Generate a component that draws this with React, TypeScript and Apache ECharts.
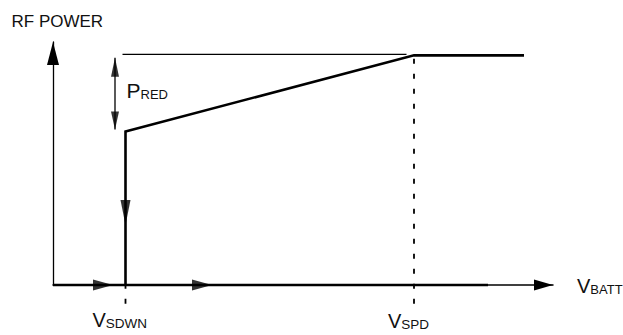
import React, { useEffect, useRef } from "react";
import * as echarts from "echarts";

// Schematic values (x: battery voltage scale 0..100, y: RF power scale 0..100)
const vSdwn = 14.5;
const vSpd = 72.2;
const curveEndX = 94.2;
const stepTopPower = 63.2;
const maxPower = 94.5;
const refLineStartX = 13.9;
const refLineEndX = 70.7;
const refLinePower = 94.9;
const thickAxisEndX = 87;
const dashBottom = -7.7;
const pRedX = 12.4;
const pRedTop = 93.5;
const pRedBottom = 64.0;
const flowArrowTips = [12, 31.8];
const downArrowTipY = 24.7;

const powerCurve = [
  [vSdwn, 0],
  [vSdwn, stepTopPower],
  [vSpd, maxPower],
  [curveEndX, maxPower],
];
const thickAxis = [
  [0, 0],
  [thickAxisEndX, 0],
];
const refLine = [
  [refLineStartX, refLinePower],
  [refLineEndX, refLinePower],
];
const pRedStem = [
  [pRedX, pRedBottom],
  [pRedX, pRedTop],
];
const spdDash = [
  [vSpd, dashBottom],
  [vSpd, maxPower],
];
const sdwnDash = [
  [vSdwn, dashBottom],
  [vSdwn, 0],
];

const FONT = "'Liberation Sans', Arial, sans-serif";
const INK = "#111";

function lineSeries(name: string, data: number[][], width: number, type: any) {
  return {
    name,
    type: "line",
    data,
    symbol: "none",
    showSymbol: false,
    clip: false,
    silent: true,
    lineStyle: { color: "#000", width, type, join: "miter", cap: "butt" },
    z: 3,
  };
}

function subLabel(x: number, y: number, main: string, sub: string, mainSize: number, subSize: number) {
  return {
    type: "text",
    x,
    y,
    style: {
      text: "{a|" + main + "}{b|" + sub + "}",
      fontFamily: FONT,
      fill: INK,
      verticalAlign: "top",
      rich: {
        a: { fontSize: mainSize, lineHeight: mainSize, verticalAlign: "bottom", fill: INK, fontFamily: FONT },
        b: { fontSize: subSize, lineHeight: 12, verticalAlign: "bottom", fill: INK, fontFamily: FONT },
      },
    },
  };
}

export default function App() {
  const ref = useRef<HTMLDivElement>(null);
  useEffect(() => {
    if (!ref.current) return;
    const chart = echarts.init(ref.current, undefined, { renderer: "svg" });

    const arrows: any[] = flowArrowTips.map((x) => ({
      value: [x, 0],
      symbolSize: [11, 20],
      symbolRotate: -90,
      symbolOffset: [-10, 0],
    }));
    arrows.push({ value: [vSdwn, downArrowTipY], symbolSize: [10, 25], symbolRotate: 180, symbolOffset: [0, -12.5] });
    arrows.push({ value: [pRedX, pRedTop], symbolSize: [8, 19], symbolRotate: 0, symbolOffset: [0, 9.5] });
    arrows.push({ value: [pRedX, pRedBottom], symbolSize: [8, 18], symbolRotate: 180, symbolOffset: [0, -9] });

    chart.setOption({
      animation: false,
      grid: { left: 53, right: 70, top: 42, bottom: 50 },
      xAxis: {
        type: "value",
        min: 0,
        max: 100,
        axisLine: {
          show: true,
          symbol: ["none", "triangle"],
          symbolSize: [11, 19],
          symbolOffset: [0, -9.5],
          lineStyle: { color: "#000", width: 1.5 },
        },
        axisTick: { show: false },
        axisLabel: { show: false },
        splitLine: { show: false },
      },
      yAxis: {
        type: "value",
        min: 0,
        max: 100,
        axisLine: {
          show: true,
          symbol: ["none", "triangle"],
          symbolSize: [12, 23],
          symbolOffset: [0, -11.5],
          lineStyle: { color: "#000", width: 1.3 },
        },
        axisTick: { show: false },
        axisLabel: { show: false },
        splitLine: { show: false },
      },
      series: [
        lineSeries("thickAxis", thickAxis, 2.6, "solid"),
        lineSeries("power", powerCurve, 2.6, "solid"),
        lineSeries("refLine", refLine, 1.2, "solid"),
        lineSeries("pRed", pRedStem, 1.3, "solid"),
        lineSeries("spdDash", spdDash, 1.8, [5, 10]),
        lineSeries("sdwnDash", sdwnDash, 1.8, [5, 10]),
        {
          name: "arrows",
          type: "scatter",
          data: arrows,
          symbol: "triangle",
          silent: true,
          clip: false,
          itemStyle: { color: "#000", borderWidth: 0 },
          z: 4,
        },
      ],
      graphic: [
        {
          type: "text",
          x: 11.5,
          y: 21,
          style: { text: "RF POWER", fontSize: 17, fontFamily: FONT, fill: INK, verticalAlign: "middle" },
        },
        subLabel(126.5, 80, "P", "RED", 21, 13),
        subLabel(577, 276, "V", "BATT", 20, 13),
        subLabel(92.5, 310, "V", "SDWN", 20, 13.5),
        subLabel(388, 311, "V", "SPD", 20, 13.5),
      ],
    });
    return () => chart.dispose();
  }, []);

  return (
    <div
      ref={ref}
      style={{ position: "fixed", left: 0, top: 0, width: 623, height: 335, background: "#fff" }}
    />
  );
}
